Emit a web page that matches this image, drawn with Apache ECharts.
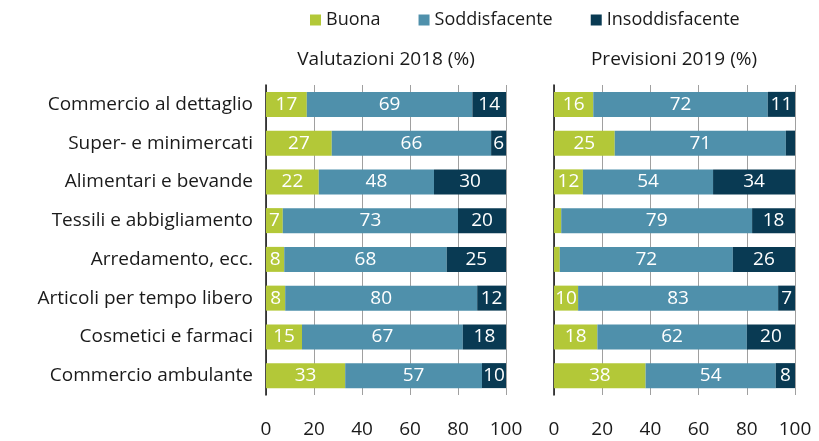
<!DOCTYPE html>
<html lang="it">
<head>
  <meta charset="UTF-8">
  <title>Valutazioni 2018 e previsioni 2019</title>
  <script src="https://cdn.jsdelivr.net/npm/echarts@6/dist/echarts.min.js"></script>
  <style>
    html, body { margin: 0; padding: 0; background: #fff; }
    #main { width: 819px; height: 441px; }
  </style>
</head>
<body>
  <div id="main"></div>
  <script>
    const categorie = [
      'Commercio al dettaglio',
      'Super- e minimercati',
      'Alimentari e bevande',
      'Tessili e abbigliamento',
      'Arredamento, ecc.',
      'Articoli per tempo libero',
      'Cosmetici e farmaci',
      'Commercio ambulante'
    ];
    const legenda = ['Buona', 'Soddisfacente', 'Insoddisfacente'];
    const titoli = ['Valutazioni 2018 (%)', 'Previsioni 2019 (%)'];
    const colori = ['#b3c838', '#4f90ab', '#093a53'];

    // Valutazioni 2018 (%) - stime, le etichette sono arrotondate
    const buona2018 = [17, 27.4, 22, 7, 7.6, 8, 15, 33];
    const soddisf2018 = [69, 66.4, 48, 73, 67.7, 80, 67, 57];
    const insodd2018 = [14, 6.2, 30, 20, 24.7, 12, 18, 10];

    // Previsioni 2019 (%)
    const buona2019 = [16.3, 25.2, 12, 3, 2.4, 10, 18, 38];
    const soddisf2019 = [72.4, 71, 54, 79.2, 71.8, 83, 62, 54];
    const insodd2019 = [11.3, 3.8, 34, 17.8, 25.8, 7, 20, 8];

    const fontName = 'Open Sans';
    const chart = echarts.init(document.getElementById('main'));

    function serie(nome, dati, idx, colore) {
      return {
        name: nome,
        type: 'bar',
        stack: 'tot' + idx,
        xAxisIndex: idx,
        yAxisIndex: idx,
        data: dati,
        barWidth: 25,
        itemStyle: { color: colore },
        label: {
          show: true,
          position: 'inside',
          color: '#fff',
          fontFamily: fontName,
          fontSize: 19,
          // i segmenti troppo stretti restano senza etichetta
          formatter: p => (p.value >= 5 ? Math.round(p.value) : '')
        }
      };
    }

    function asseX(idx) {
      return {
        gridIndex: idx,
        type: 'value',
        min: 0,
        max: 100,
        interval: 20,
        axisLine: { show: false },
        axisTick: { show: false },
        axisLabel: { margin: 25, fontSize: 19, color: '#1a1a1a', fontFamily: fontName },
        splitLine: { show: true, lineStyle: { color: '#a0a0a0', width: 1 } }
      };
    }

    function asseY(idx, etichette) {
      return {
        gridIndex: idx,
        type: 'category',
        data: categorie,
        inverse: true,
        axisLine: { show: true, lineStyle: { color: '#111', width: 1.5 } },
        axisTick: { show: false },
        axisLabel: {
          show: etichette,
          margin: 13,
          fontSize: 19,
          color: '#1a1a1a',
          fontFamily: fontName
        }
      };
    }

    const option = {
      animation: false,
      textStyle: { fontFamily: fontName },
      graphic: [
        { type: 'text', x: 386, y: 50, style: { text: titoli[0], fill: '#1a1a1a', font: '19px "Open Sans"', align: 'center' } },
        { type: 'text', x: 674, y: 50, style: { text: titoli[1], fill: '#1a1a1a', font: '19px "Open Sans"', align: 'center' } }
      ],
      legend: {
        data: legenda,
        top: 6,
        left: 305,
        itemWidth: 11,
        itemHeight: 11,
        itemGap: 38,
        icon: 'rect',
        textStyle: { fontSize: 18, color: '#1a1a1a', fontFamily: fontName }
      },
      grid: [
        { left: 266, width: 240, top: 85, height: 310 },
        { left: 554, width: 241, top: 85, height: 310 }
      ],
      xAxis: [asseX(0), asseX(1)],
      yAxis: [asseY(0, true), asseY(1, false)],
      series: [
        serie(legenda[0], buona2018, 0, colori[0]),
        serie(legenda[1], soddisf2018, 0, colori[1]),
        serie(legenda[2], insodd2018, 0, colori[2]),
        serie(legenda[0], buona2019, 1, colori[0]),
        serie(legenda[1], soddisf2019, 1, colori[1]),
        serie(legenda[2], insodd2019, 1, colori[2])
      ]
    };

    chart.setOption(option);
  </script>
</body>
</html>
